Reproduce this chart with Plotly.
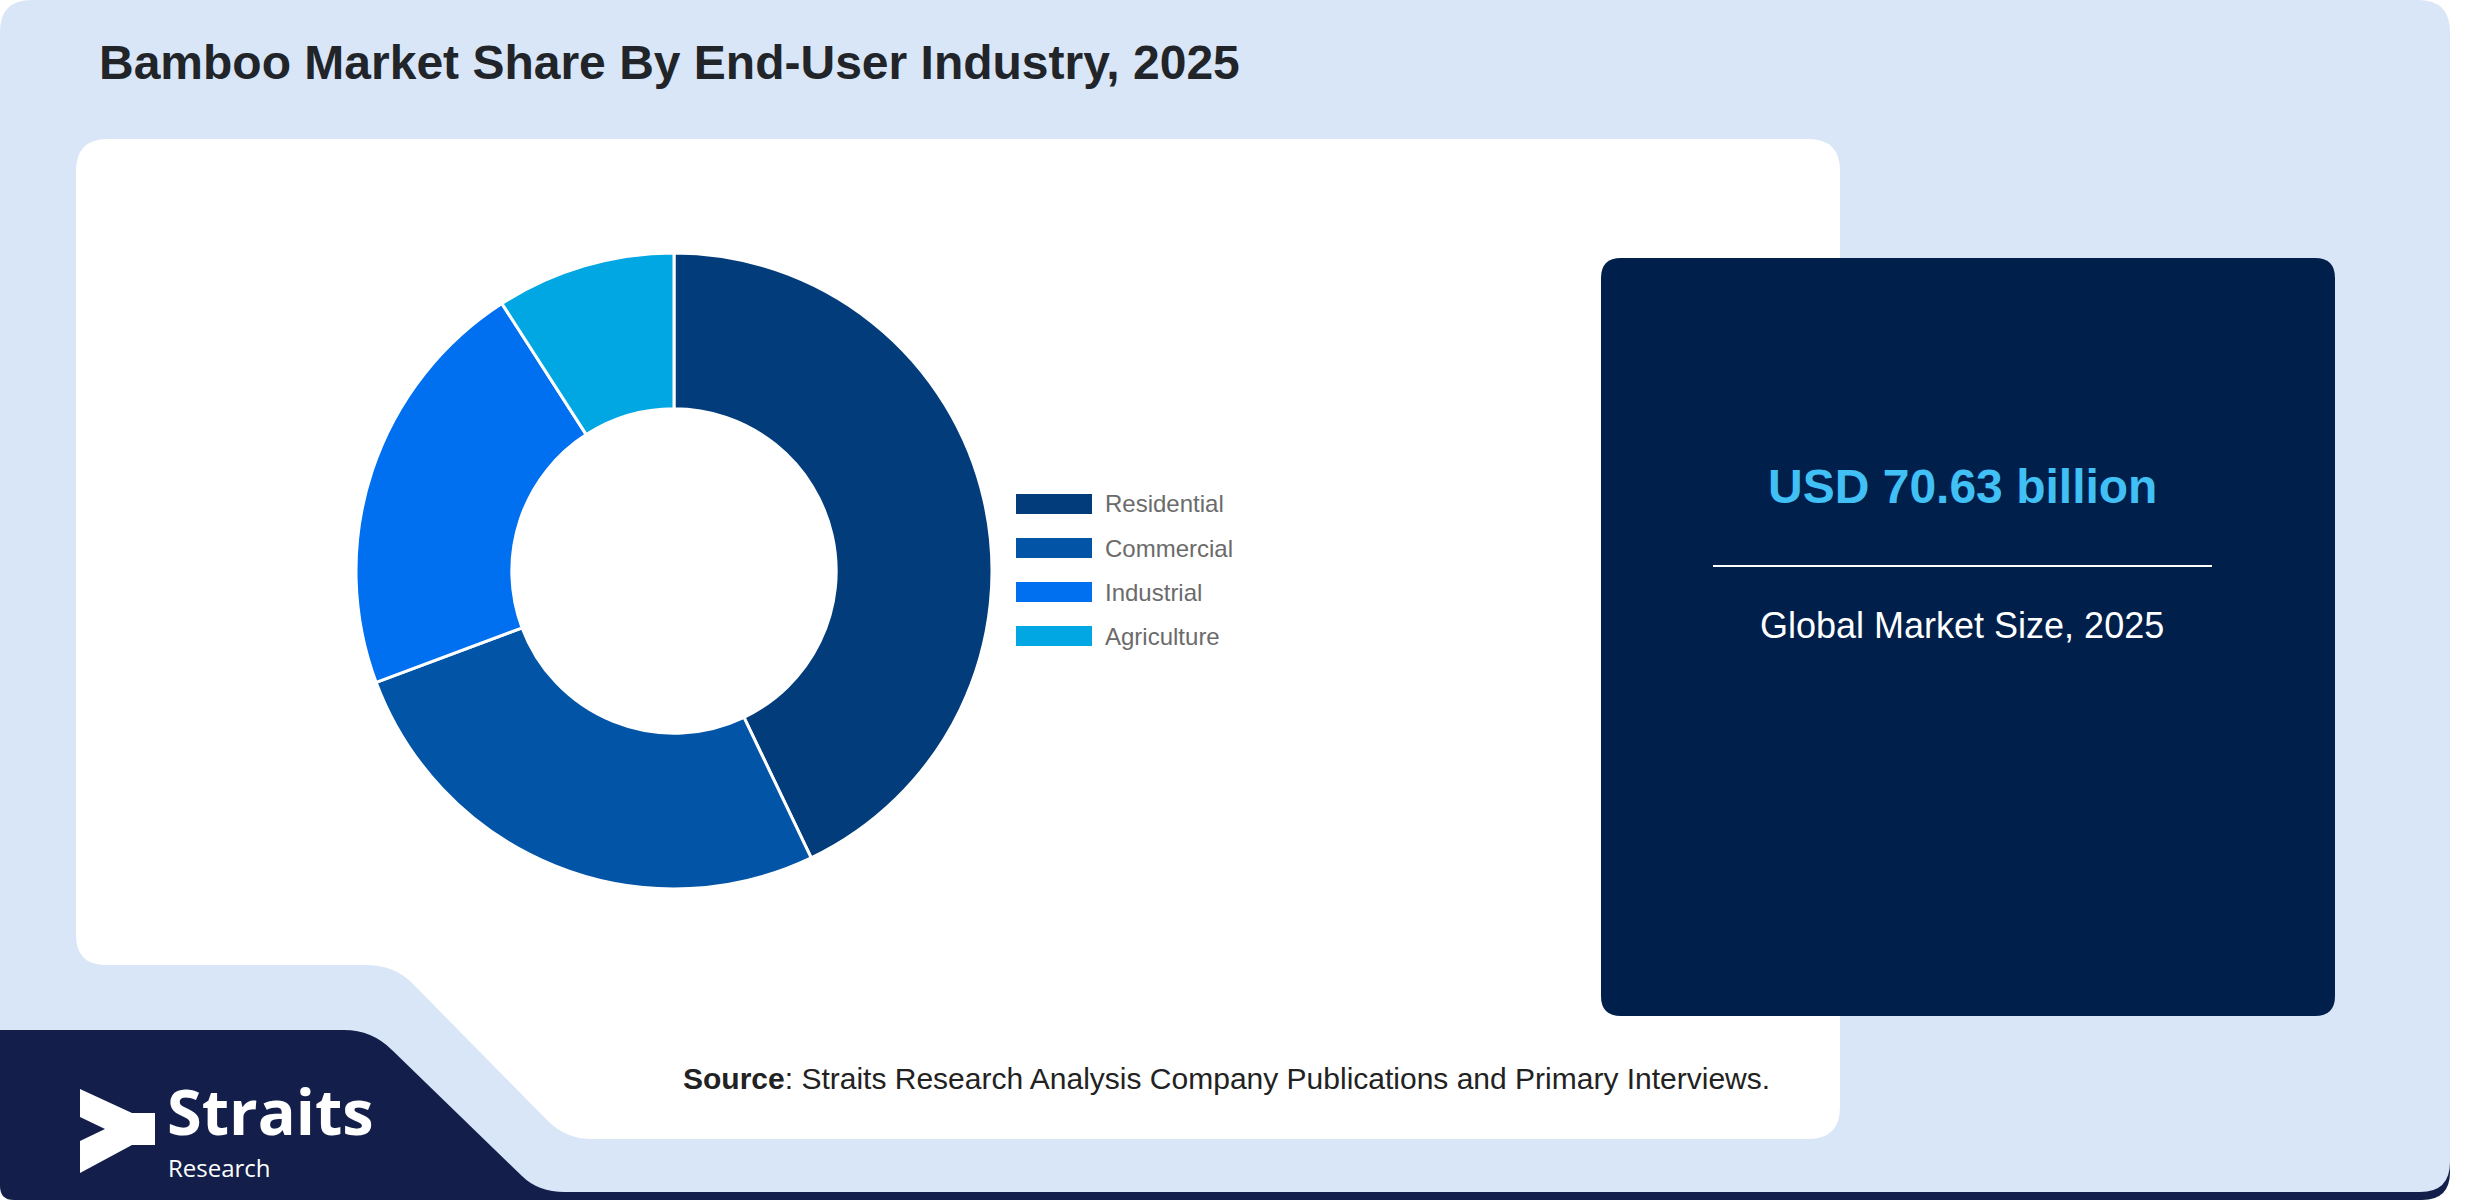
import plotly.graph_objects as go

# data
segments = ["Residential", "Commercial", "Industrial", "Agriculture"]
shares = [42.9, 26.4, 21.6, 9.1]
seg_colors = ["#033c7a", "#0254a6", "#006ff0", "#00a7e3"]

title_text = "Bamboo Market Share By End-User Industry, 2025"
market_value = "USD 70.63 billion"
market_label = "Global Market Size, 2025"
source_text = "<b>Source</b>: Straits Research Analysis Company Publications and Primary Interviews."

W, H = 2480, 1200
FONT = "Liberation Sans, Arial, sans-serif"


# pixel -> paper helpers
def px(x):
    return x / W


def py(y):
    return 1 - y / H


def path(points):
    # points: list of (cmd, coords...) in pixels
    out = []
    for p in points:
        cmd = p[0]
        nums = p[1:]
        conv = []
        for i in range(0, len(nums), 2):
            conv.append(f"{px(nums[i]):.5f},{py(nums[i + 1]):.5f}")
        out.append(cmd + " " + " ".join(conv))
    return " ".join(out) + " Z"


def round_rect(x0, y0, x1, y1, r):
    return path([
        ("M", x0 + r, y0), ("L", x1 - r, y0), ("Q", x1, y0, x1, y0 + r),
        ("L", x1, y1 - r), ("Q", x1, y1, x1 - r, y1),
        ("L", x0 + r, y1), ("Q", x0, y1, x0, y1 - r),
        ("L", x0, y0 + r), ("Q", x0, y0, x0 + r, y0),
    ])


def label(text, x, y, size, color, anchor="left", vanchor="middle", family=FONT):
    return dict(text=text, x=px(x), y=py(y), xanchor=anchor, yanchor=vanchor,
                showarrow=False, borderpad=0,
                font=dict(family=family, size=size, color=color))


shapes = []

# navy base strip at the bottom
shapes.append(dict(type="path", xref="paper", yref="paper", layer="below",
                   path=path([("M", 0, 1000), ("L", 2450, 1000), ("L", 2450, 1172),
                              ("Q", 2450, 1200, 2422, 1200), ("L", 14, 1200),
                              ("Q", 0, 1200, 0, 1186)]),
                   fillcolor="#131f4a", line=dict(width=0)))

# light blue background with the logo tab cut out
shapes.append(dict(type="path", xref="paper", yref="paper", layer="below",
                   path=path([("M", 0, 32), ("Q", 0, 0, 32, 0), ("L", 2418, 0),
                              ("Q", 2450, 0, 2450, 32), ("L", 2450, 1162),
                              ("Q", 2450, 1192, 2420, 1192), ("L", 565, 1192),
                              ("Q", 538, 1192, 522, 1176), ("L", 392, 1050),
                              ("Q", 372, 1030, 344, 1030), ("L", 0, 1030)]),
                   fillcolor="#d9e6f8", line=dict(width=0)))

# white chart panel
shapes.append(dict(type="path", xref="paper", yref="paper", layer="below",
                   path=path([("M", 108, 139), ("L", 1808, 139), ("Q", 1840, 139, 1840, 171),
                              ("L", 1840, 1107), ("Q", 1840, 1139, 1808, 1139),
                              ("L", 592, 1139), ("Q", 566, 1139, 548, 1121),
                              ("L", 412, 983), ("Q", 394, 965, 366, 965),
                              ("L", 106, 965), ("Q", 76, 965, 76, 935),
                              ("L", 76, 171), ("Q", 76, 139, 108, 139)]),
                   fillcolor="white", line=dict(width=0)))

# dark market size card
shapes.append(dict(type="path", xref="paper", yref="paper", layer="below",
                   path=round_rect(1601, 258, 2335, 1016, 20),
                   fillcolor="#001f4b", line=dict(width=0)))
shapes.append(dict(type="line", xref="paper", yref="paper",
                   x0=px(1713), x1=px(2212), y0=py(566), y1=py(566),
                   line=dict(color="white", width=2)))

# logo mark
shapes.append(dict(type="path", xref="paper", yref="paper",
                   path=path([("M", 80, 1089), ("L", 132, 1113), ("L", 155, 1113),
                              ("L", 155, 1145), ("L", 132, 1145), ("L", 80, 1173),
                              ("L", 80, 1141), ("L", 105, 1129), ("L", 80, 1117)]),
                   fillcolor="white", line=dict(width=0)))

annotations = [
    label(f"<b>{title_text}</b>", 98, 63, 48, "#212529"),
    label(f"<b>{market_value}</b>", 1962, 486, 48, "#41c0f5", anchor="center"),
    label(market_label, 1962, 626, 36, "white", anchor="center"),
    label(source_text, 682, 1078, 30, "#222222"),
    label("<b>Straits</b>", 166, 1154, 63, "white", vanchor="bottom",
          family="Open Sans, sans-serif"),
    label("Research", 167, 1150, 24, "white", vanchor="top",
          family="Open Sans, sans-serif"),
]

# legend drawn beside the donut
leg_x0, leg_y0, leg_step = 1016, 504, 44
for i, (name, col) in enumerate(zip(segments, seg_colors)):
    yc = leg_y0 + i * leg_step
    shapes.append(dict(type="rect", xref="paper", yref="paper",
                       x0=px(leg_x0), x1=px(leg_x0 + 76), y0=py(yc - 10), y1=py(yc + 10),
                       fillcolor=col, line=dict(width=0)))
    annotations.append(label(name, 1104, yc, 24, "#6b6b6b"))

# donut
cx, cy, r = 674, 571, 318
fig = go.Figure(go.Pie(
    labels=segments,
    values=shares,
    hole=0.51,
    sort=False,
    direction="clockwise",
    rotation=0,
    marker=dict(colors=seg_colors, line=dict(color="white", width=3)),
    textinfo="none",
    domain=dict(x=[px(cx - r), px(cx + r)], y=[py(cy + r), py(cy - r)]),
    showlegend=False,
))

fig.update_layout(
    width=W,
    height=H,
    margin=dict(l=0, r=0, t=0, b=0),
    paper_bgcolor="white",
    plot_bgcolor="white",
    shapes=shapes,
    annotations=annotations,
)

fig.write_html("out.html", config={"displayModeBar": False},
               post_script="document.body.style.margin='0';")
